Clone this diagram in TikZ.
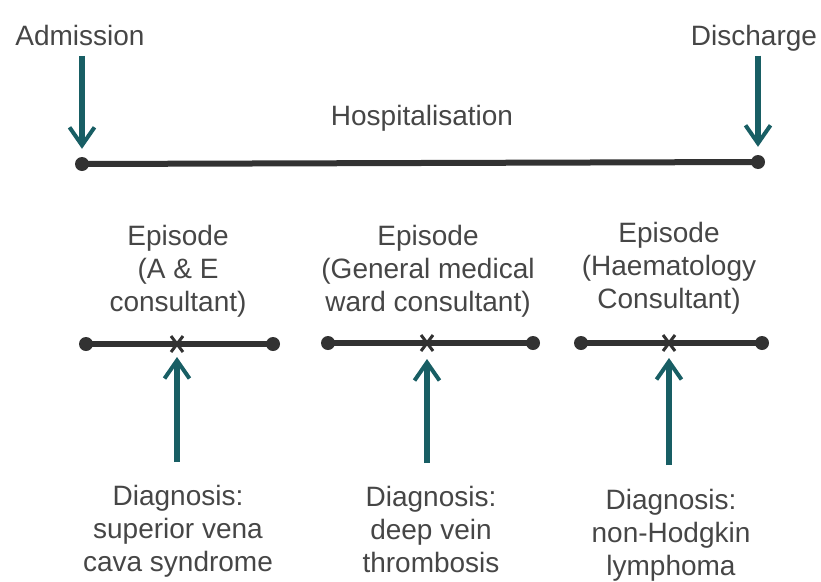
\documentclass[tikz,border=0pt]{standalone}
\usepackage{fontspec}
\setmainfont{Liberation Sans}
\usetikzlibrary{arrows.meta}
\definecolor{teal1}{RGB}{24,94,100}
\definecolor{line1}{RGB}{50,50,50}
\definecolor{txt}{RGB}{70,70,70}
\tikzset{
  lbl/.style={anchor=north, inner sep=0pt, align=center, text=txt,
    font=\fontsize{28}{33}\selectfont},
  tarrow/.style={draw=teal1, line width=6pt,
    -{Straight Barb[length=18pt,width=25pt,line width=4pt]}},
  tline/.style={draw=line1, line width=6pt},
  enddot/.style={circle, fill=line1, inner sep=0pt, minimum size=14pt},
  xmark/.style={draw=line1, line width=3pt},
}
\begin{document}
\begin{tikzpicture}[x=1pt,y=-1pt]
\useasboundingbox (0,0) rectangle (821,581);
% top labels
\node[lbl] (adm) at (80,25) {Admission};
\node[lbl] (dis) at (754,25) {Discharge};
\node[lbl] (hosp) at (422,105) {Hospitalisation};
% main line
\node[enddot] (h1) at (82,164) {};
\node[enddot] (h2) at (758,162) {};
\draw[tline] (h1.center) -- (h2.center);
\draw[tarrow, shorten <=10pt, shorten >=8pt] (adm.south -| h1) -- (h1.north);
\draw[tarrow, shorten <=4pt, shorten >=8pt] (dis.south -| h2) -- (h2.north);
% episode labels
\node[lbl] (e1) at (178,225) {Episode\\(A \& E\\consultant)};
\node[lbl] (e2) at (428,225) {Episode\\(General medical\\ward consultant)};
\node[lbl] (e3) at (669,222) {Episode\\(Haematology\\Consultant)};
% episode lines
\node[enddot] (l1) at (86,344) {};
\node[enddot] (r1) at (273,344) {};
\node[enddot] (l2) at (328,343) {};
\node[enddot] (r2) at (533,343) {};
\node[enddot] (l3) at (581,343) {};
\node[enddot] (r3) at (762,343) {};
\draw[tline] (l1.center) -- (r1.center);
\draw[tline] (l2.center) -- (r2.center);
\draw[tline] (l3.center) -- (r3.center);
% x marks
\foreach \n/\x/\y in {x1/177/344, x2/427/343, x3/669/343}{
  \coordinate (\n) at (\x,\y);
  \draw[xmark] ([shift={(-6,-8)}]\n) -- ([shift={(6,8)}]\n);
  \draw[xmark] ([shift={(6,-8)}]\n) -- ([shift={(-6,8)}]\n);
}
% diagnosis labels
\node[lbl] (g1) at (178,485) {Diagnosis:\\superior vena\\cava syndrome};
\node[lbl] (g2) at (431,486) {Diagnosis:\\deep vein\\thrombosis};
\node[lbl] (g3) at (671,489) {Diagnosis:\\non-Hodgkin\\lymphoma};
% up arrows
\draw[tarrow, shorten <=23pt, shorten >=13pt] (g1.north -| x1) -- (x1);
\draw[tarrow, shorten <=23pt, shorten >=16pt] (g2.north -| x2) -- (x2);
\draw[tarrow, shorten <=24pt, shorten >=15pt] (g3.north -| x3) -- (x3);
\end{tikzpicture}
\end{document}
